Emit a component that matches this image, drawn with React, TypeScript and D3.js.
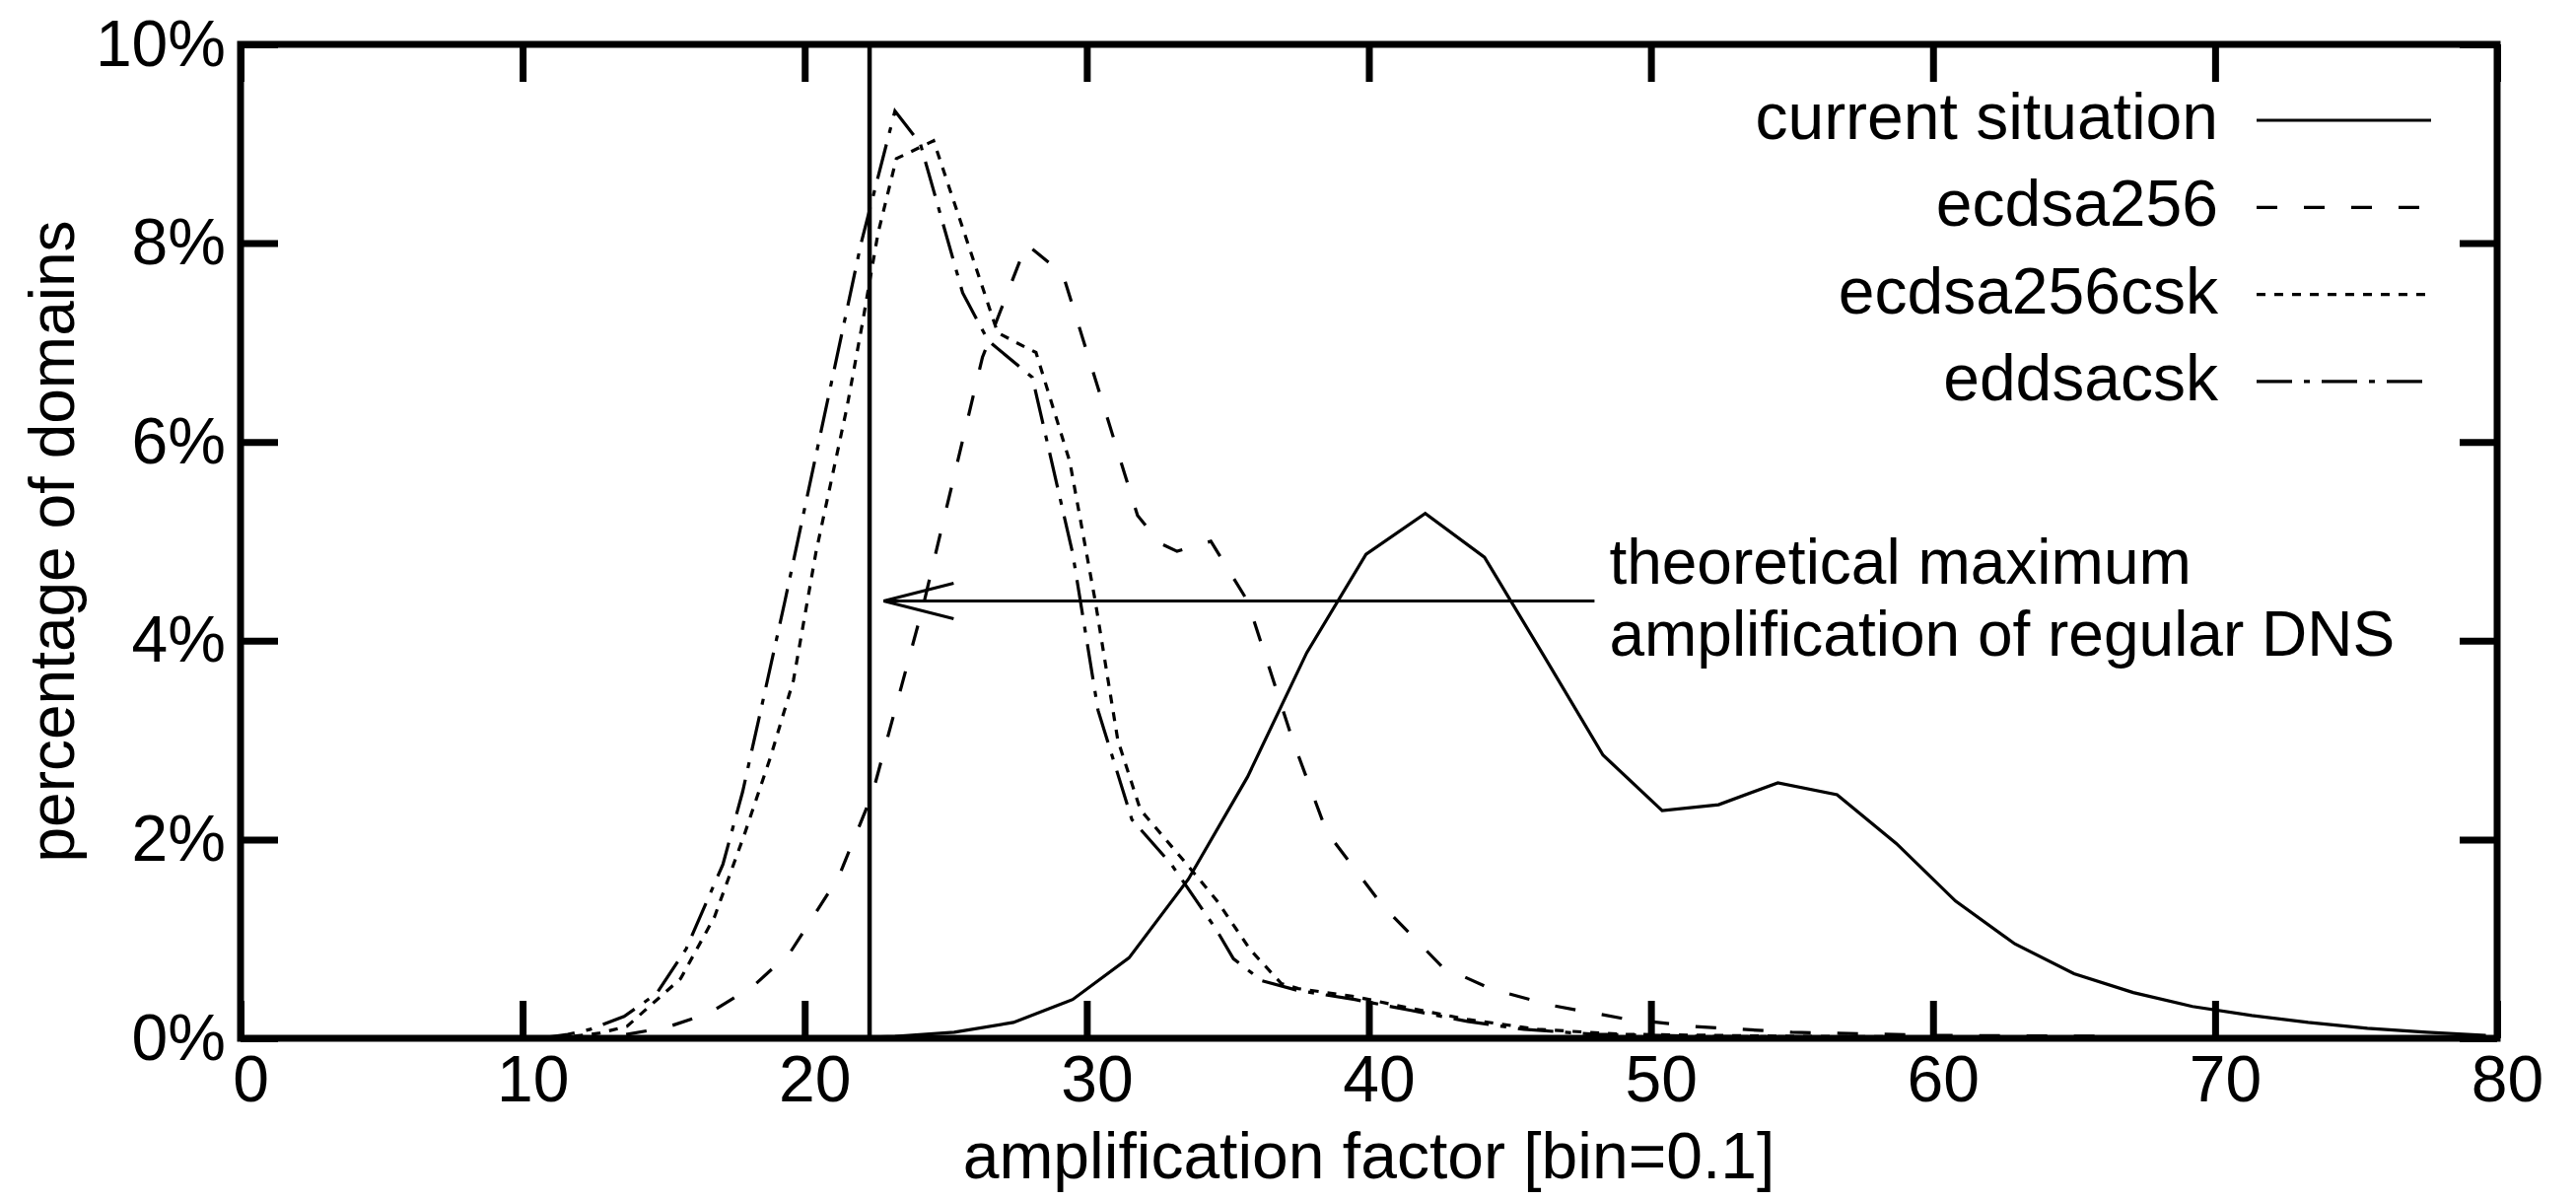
import { useEffect, useRef } from "react";
import * as d3 from "d3";

type Pt = [number, number];

const xTicks = [0, 10, 20, 30, 40, 50, 60, 70, 80];
const yTicks = [0, 2, 4, 6, 8, 10];

const seriesNames = ["current situation", "ecdsa256", "ecdsa256csk", "eddsacsk"];

// [amplification factor, % of domains]
const current: Pt[] = [
  [19.0, 0.0], [21.1, 0.0], [23.2, 0.02], [25.3, 0.06], [27.4, 0.16], [29.5, 0.39],
  [31.5, 0.81], [33.6, 1.6], [35.7, 2.63], [37.8, 3.88], [39.9, 4.87], [42.0, 5.28],
  [44.1, 4.84], [46.2, 3.85], [48.3, 2.85], [50.4, 2.29], [52.4, 2.35], [54.5, 2.57],
  [56.6, 2.45], [58.7, 1.96], [60.8, 1.38], [62.9, 0.95], [65.0, 0.65], [67.1, 0.46],
  [69.2, 0.32], [71.3, 0.23], [73.3, 0.16], [75.4, 0.1], [77.5, 0.06], [79.6, 0.03],
];

const ecdsa256: Pt[] = [
  [12.0, 0.0], [13.5, 0.03], [15.1, 0.11], [16.6, 0.25], [18.2, 0.53], [19.5, 0.87],
  [21.2, 1.62], [22.4, 2.46], [24.2, 4.35], [26.3, 6.85], [27.86, 7.99], [29.15, 7.69],
  [31.8, 5.26], [32.6, 4.98], [33.2, 4.9], [34.4, 5.0], [35.7, 4.4], [37.3, 3.0],
  [38.5, 2.08], [40.5, 1.33], [42.6, 0.72], [44.3, 0.5], [46.5, 0.33], [49.0, 0.2],
  [51.5, 0.12], [55.0, 0.06], [60.0, 0.03], [66.0, 0.02],
];

const ecdsa256csk: Pt[] = [
  [11.2, 0.0], [12.7, 0.05], [13.7, 0.12], [15.6, 0.6], [16.8, 1.22], [17.85, 2.04],
  [18.8, 2.84], [19.6, 3.6], [20.4, 4.89], [21.5, 6.35], [22.05, 7.2], [22.6, 8.1],
  [23.25, 8.85], [24.57, 9.03], [26.84, 7.1], [27.5, 7.0], [28.2, 6.9], [29.4, 5.8],
  [30.3, 4.4], [31.1, 3.0], [31.9, 2.3], [33.4, 1.8], [34.6, 1.39], [35.8, 0.89],
  [36.9, 0.55], [37.5, 0.5], [39.5, 0.42], [41.5, 0.3], [43.5, 0.19], [46.0, 0.09],
  [49.0, 0.04], [55.0, 0.02], [62.0, 0.01], [66.0, 0.0],
];

const eddsacsk: Pt[] = [
  [10.6, 0.0], [11.6, 0.04], [12.4, 0.09], [13.6, 0.22], [14.75, 0.45], [15.8, 0.9],
  [17.1, 1.75], [17.8, 2.48], [18.6, 3.5], [19.3, 4.4], [20.5, 6.0], [22.0, 8.0],
  [23.2, 9.33], [24.1, 9.0], [25.6, 7.5], [26.5, 7.02], [28.07, 6.65], [29.5, 4.88],
  [30.4, 3.3], [31.6, 2.2], [33.0, 1.75], [34.6, 1.09], [35.2, 0.8], [36.2, 0.58],
  [37.5, 0.48], [39.5, 0.39], [41.5, 0.28], [43.5, 0.17], [45.5, 0.09], [48.0, 0.04],
  [52.0, 0.02], [58.0, 0.01], [64.0, 0.0],
];

const seriesData = [current, ecdsa256, ecdsa256csk, eddsacsk];

// theoretical maximum of regular DNS + arrow
const theoryMaxX = 22.3;
const arrowFromX = 48.0;
const arrowToX = 22.8;
const arrowY = 4.4;
const noteLines = ["theoretical maximum", "amplification of regular DNS"];

const W = 2613;
const H = 1217;
const margin = { top: 45, right: 80, bottom: 164, left: 244 };
const FONT = '"Liberation Sans", Arial, Helvetica, sans-serif';
const FS = 66;

const dashes = ["none", "21 27", "9 9", "36 12 6 12"];

function App() {
  const svgRef = useRef<SVGSVGElement>(null);

  useEffect(() => {
    if (!svgRef.current) return;
    const svg = d3.select(svgRef.current);
    svg.selectAll("*").remove();

    const width = W - margin.left - margin.right;
    const height = H - margin.top - margin.bottom;

    const x = d3.scaleLinear().domain([0, 80]).range([margin.left, margin.left + width]);
    const y = d3.scaleLinear().domain([0, 10]).range([margin.top + height, margin.top]);

    svg.append("rect").attr("width", W).attr("height", H).attr("fill", "#fff");

    const tick = 38;
    const styleAxis = (g: d3.Selection<SVGGElement, unknown, null, undefined>) => {
      g.attr("font-size", FS).attr("font-family", FONT);
      g.select(".domain").remove();
      g.selectAll(".tick line").attr("stroke", "#000").attr("stroke-width", 7);
      g.selectAll(".tick text").attr("fill", "#000");
    };

    // bottom
    const gB = svg
      .append("g")
      .attr("transform", `translate(0,${y(0)})`)
      .call(
        d3.axisBottom(x).tickValues(xTicks).tickSizeInner(-tick).tickSizeOuter(0).tickPadding(17)
      );
    styleAxis(gB);
    gB.selectAll(".tick text").attr("dx", 10);

    // top
    const gT = svg
      .append("g")
      .attr("transform", `translate(0,${y(10)})`)
      .call(
        d3.axisTop(x).tickValues(xTicks).tickSizeInner(-tick).tickSizeOuter(0).tickFormat(() => "")
      );
    styleAxis(gT);

    // left
    const gL = svg
      .append("g")
      .attr("transform", `translate(${x(0)},0)`)
      .call(
        d3
          .axisLeft(y)
          .tickValues(yTicks)
          .tickSizeInner(-tick)
          .tickSizeOuter(0)
          .tickPadding(15)
          .tickFormat((d) => `${d}%`)
      );
    styleAxis(gL);

    // right
    const gR = svg
      .append("g")
      .attr("transform", `translate(${x(80)},0)`)
      .call(
        d3.axisRight(y).tickValues(yTicks).tickSizeInner(-tick).tickSizeOuter(0).tickFormat(() => "")
      );
    styleAxis(gR);

    // vertical line: theoretical max
    svg
      .append("line")
      .attr("x1", x(theoryMaxX))
      .attr("x2", x(theoryMaxX))
      .attr("y1", y(0))
      .attr("y2", y(10))
      .attr("stroke", "#000")
      .attr("stroke-width", 4.5);

    // curves
    const line = d3
      .line<Pt>()
      .x((d) => x(d[0]))
      .y((d) => y(d[1]));

    seriesData.forEach((data, i) => {
      svg
        .append("path")
        .datum(data)
        .attr("fill", "none")
        .attr("stroke", "#000")
        .attr("stroke-width", 3.2)
        .attr("stroke-dasharray", dashes[i])
        .attr("d", line);
    });

    // arrow
    const ay = y(arrowY);
    svg
      .append("line")
      .attr("x1", x(arrowFromX))
      .attr("x2", x(arrowToX))
      .attr("y1", ay)
      .attr("y2", ay)
      .attr("stroke", "#000")
      .attr("stroke-width", 3);
    const tip = x(arrowToX);
    svg
      .append("path")
      .attr("d", `M${tip + 71},${ay - 18}L${tip},${ay}L${tip + 71},${ay + 18}`)
      .attr("fill", "none")
      .attr("stroke", "#000")
      .attr("stroke-width", 3);

    noteLines.forEach((t, i) => {
      svg
        .append("text")
        .attr("font-family", FONT)
        .attr("font-size", 64)
        .attr("fill", "#000")
        .attr("x", x(arrowFromX) + 15)
        .attr("y", ay - 17 + i * 73)
        .text(t);
    });

    // frame
    svg
      .append("rect")
      .attr("x", x(0))
      .attr("y", y(10))
      .attr("width", width)
      .attr("height", height)
      .attr("fill", "none")
      .attr("stroke", "#000")
      .attr("stroke-width", 7);

    // legend
    const legend = svg.append("g").attr("transform", `translate(2250,122)`);
    seriesNames.forEach((name, i) => {
      const row = legend.append("g").attr("transform", `translate(0,${i * 88.3})`);
      row
        .append("text")
        .attr("x", 0)
        .attr("y", 19)
        .attr("text-anchor", "end")
        .attr("font-family", FONT)
        .attr("font-size", FS)
        .attr("fill", "#000")
        .text(name);
      row
        .append("line")
        .attr("x1", 39)
        .attr("x2", 216)
        .attr("y1", 0)
        .attr("y2", 0)
        .attr("stroke", "#000")
        .attr("stroke-width", 3.2)
        .attr("stroke-dasharray", dashes[i]);
    });

    // axis titles
    svg
      .append("text")
      .attr("x", (x(0) + x(80)) / 2)
      .attr("y", 1195)
      .attr("text-anchor", "middle")
      .attr("font-family", FONT)
      .attr("font-size", FS)
      .attr("fill", "#000")
      .text("amplification factor [bin=0.1]");

    svg
      .append("text")
      .attr("transform", `translate(75,${(y(0) + y(10)) / 2}) rotate(-90)`)
      .attr("text-anchor", "middle")
      .attr("font-family", FONT)
      .attr("font-size", 64)
      .attr("fill", "#000")
      .text("percentage of domains");
  }, []);

  return (
    <svg
      ref={svgRef}
      width={W}
      height={H}
      style={{ position: "absolute", left: 0, top: 0, display: "block" }}
    ></svg>
  );
}

export default App;
